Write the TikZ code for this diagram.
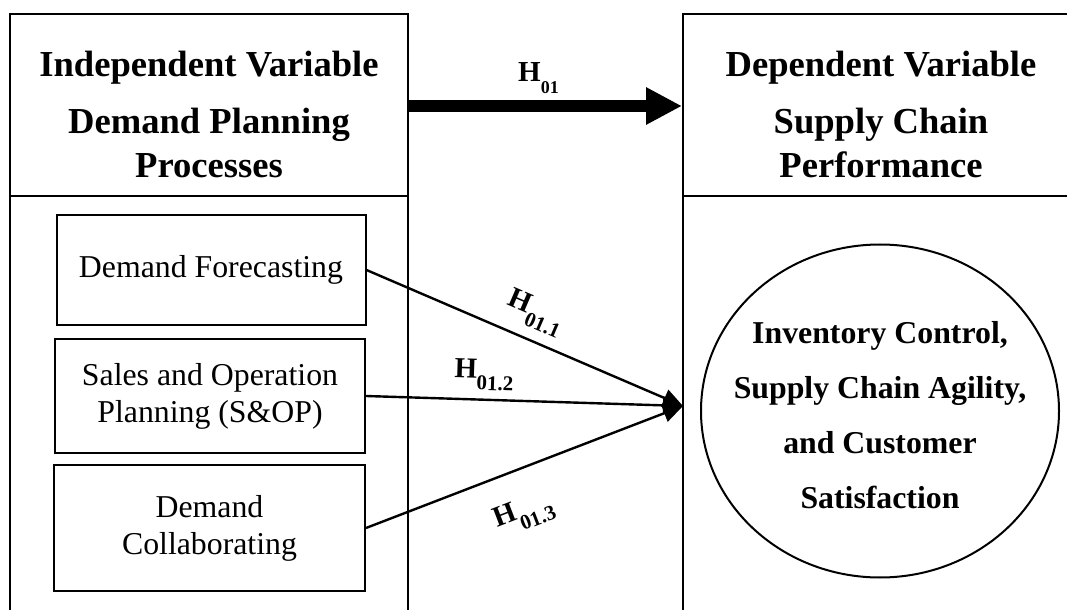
\documentclass[tikz,border=0pt]{standalone}
\usepackage{fontspec}
\setmainfont{Liberation Serif}
\usetikzlibrary{arrows.meta,shapes.geometric}

% hypothesis label with lowered index, index size as option
\newcommand{\Hsub}[2][10.5]{\textbf{H\raisebox{-6pt}{\fontsize{#1}{#1}\selectfont #2}}}

\begin{document}
\begin{tikzpicture}[x=0.5pt, y=-0.5pt, line width=1pt, >={Triangle[length=10pt,width=9pt]}]
	\tikzstyle{panel} = [draw, rectangle, inner sep=0pt];
	\tikzstyle{title} = [align=center, inner sep=0pt, font=\bfseries\fontsize{18.3}{22}\selectfont];
	\tikzstyle{factor} = [draw, rectangle, align=center, inner sep=0pt, font=\fontsize{15.9}{18.5}\selectfont];
	\tikzstyle{hyp} = [inner sep=0pt, font=\fontsize{14.5}{15}\selectfont];
	\clip (0,0) rectangle (1067,610);

	% the two columns, open at the bottom and on the far right
	\node[panel, minimum width=199pt, minimum height=91pt] (IH) at (209,105) {};
	\node[panel, minimum width=199pt, minimum height=222pt] (IB) at (209,418) {};
	\node[panel, minimum width=218.5pt, minimum height=91pt] (DH) at (901.5,105) {};
	\node[panel, minimum width=218.5pt, minimum height=222pt] (DB) at (901.5,418) {};

	\node[title] (IT) at (209,114) {Independent Variable\\[6.5pt]Demand Planning\\Processes};
	\node[title] (DT) at (881,114) {Dependent Variable\\[6.5pt]Supply Chain\\Performance};

	% demand planning processes
	\node[factor, minimum width=154.5pt, minimum height=54.5pt] (F) at (211,270) {Demand Forecasting};
	\node[factor, minimum width=155pt, minimum height=57pt] (S) at (210,396) {Sales and Operation\\Planning (S\&OP)};
	\node[factor, minimum width=155.5pt, minimum height=63pt] (C) at (209.5,528) {Demand\\Collaborating};

	% performance measures
	\node[ellipse, draw, inner sep=0pt, minimum width=179pt, minimum height=166.5pt] (P) at (880,411) {};
	\node[align=center, inner sep=0pt, font=\bfseries\fontsize{15.9}{27.5}\selectfont] (PT) at (880,415)
		{Inventory Control,\\Supply Chain Agility,\\and Customer\\Satisfaction};

	\coordinate (T) at (683,406);

	\draw[line width=6pt, -{Triangle[length=18pt,width=17.5pt]}] ([yshift=-0.5pt]IH.east) --
		node[hyp, above=3pt, xshift=-3.5pt] (H0) {\Hsub[9]{01}} ([yshift=-0.5pt]DH.west);

	\path[->, line width=1.2pt] (F.east) edge node[hyp, sloped, above=5pt] (H1) {\Hsub{01.1}} (T)
		(S.east) edge node[hyp, sloped, above=4pt, pos=0.37] (H2) {\Hsub{01.2}} (T)
		(C.east) edge node[hyp, sloped, below=13.5pt, pos=0.45] (H3) {\Hsub{01.3}} (T);
\end{tikzpicture}
\end{document}
